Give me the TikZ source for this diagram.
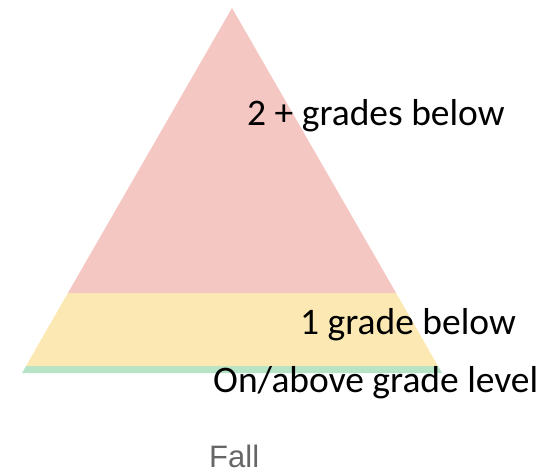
\documentclass[tikz,border=0pt]{standalone}
\usepackage{fontspec}
\setmainfont{Carlito}
\newfontfamily\labelfont{Liberation Sans}
\definecolor{redband}{HTML}{F4C7C3}
\definecolor{yellowband}{HTML}{FCE8B2}
\definecolor{greenband}{HTML}{B7E4C7}
\definecolor{falltext}{HTML}{666666}
\begin{document}
\begin{tikzpicture}[x=1pt,y=-1pt,
  lbl/.style={inner sep=0pt,anchor=base west,font=\fontsize{37.5}{44}\selectfont}]
\useasboundingbox (0,0) rectangle (554,472);
% triangle: apex (232,8), base y=373 from 22 to 442
\fill[greenband] (22,373) -- (442,373) -- (438.0,366) -- (26.0,366) -- cycle;
\fill[yellowband] (26.0,366) -- (438.0,366) -- (396.1,293) -- (67.9,293) -- cycle;
\fill[redband] (67.9,293) -- (396.1,293) -- (232,8) -- cycle;
\node[lbl] (two) at (247,125) {2 + grades below};
\node[lbl] (one) at (300,334) {1 grade below};
\node[lbl] (on) at (213,392) {On/above grade level};
\node[inner sep=0pt,anchor=base west,text=falltext,font=\labelfont\fontsize{31}{36}\selectfont] (fall) at (209,467) {Fall};
\end{tikzpicture}
\end{document}
